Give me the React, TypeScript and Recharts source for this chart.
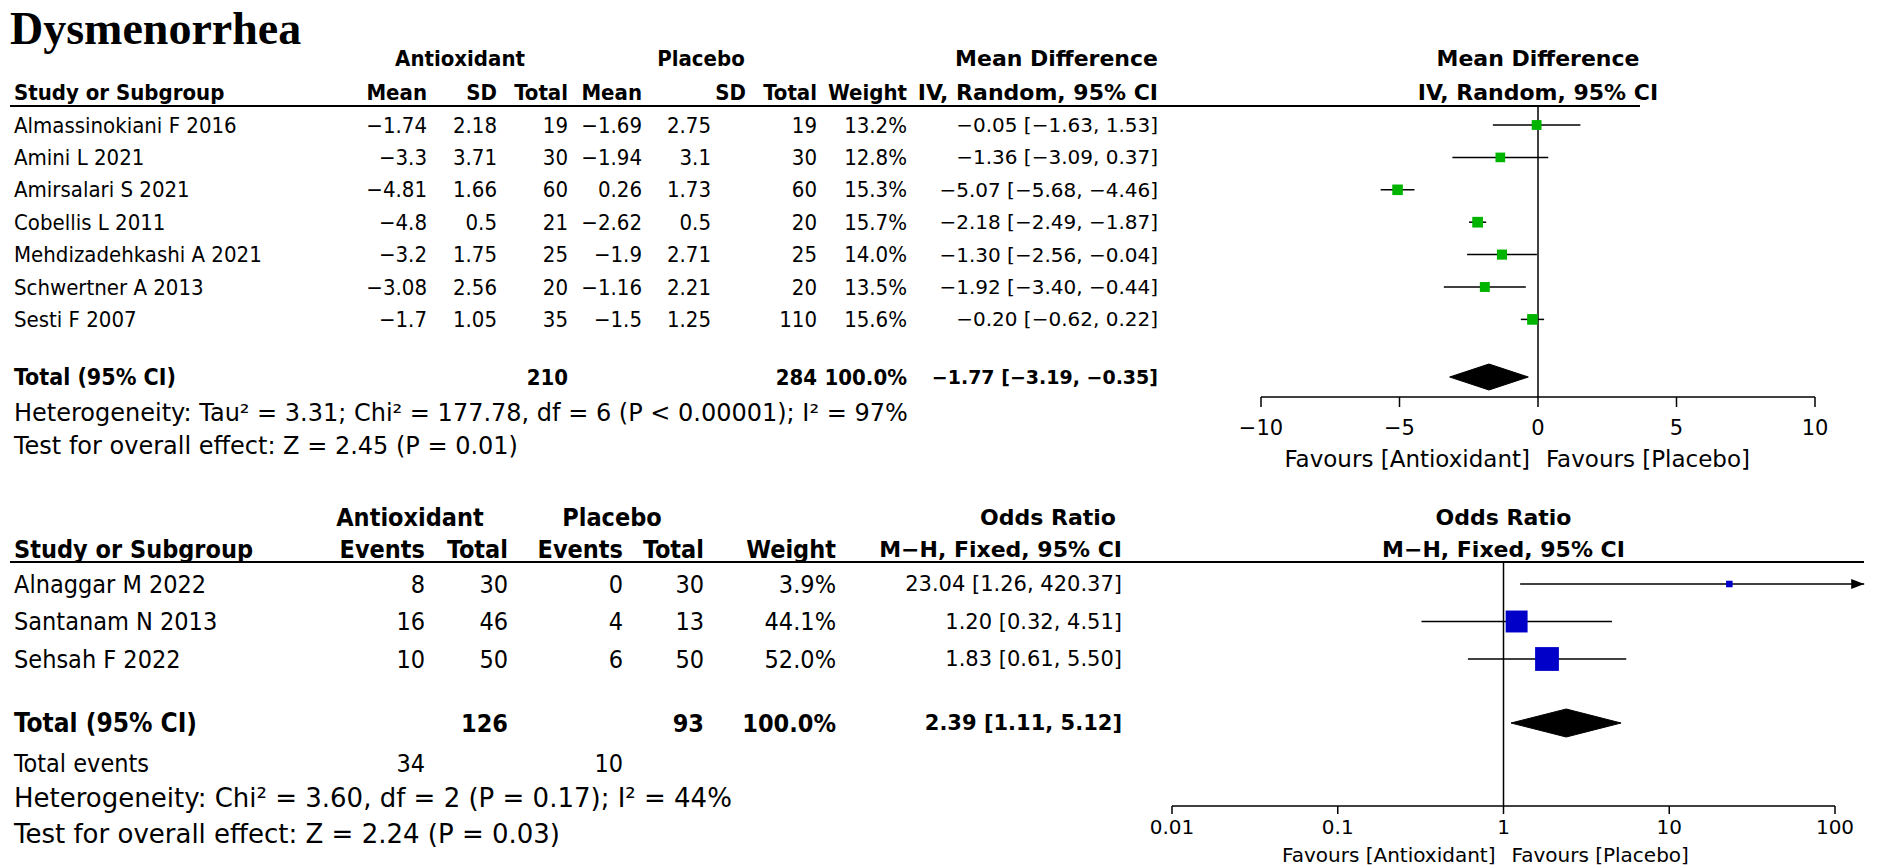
import React from "react";
import { ComposedChart, XAxis, YAxis, Scatter, Area, ReferenceLine } from "recharts";

const W = 1902;
const H = 868;

// ---- Dysmenorrhea: mean difference ----
const mdStudy = [
  "Almassinokiani F 2016",
  "Amini L 2021",
  "Amirsalari S 2021",
  "Cobellis L 2011",
  "Mehdizadehkashi A 2021",
  "Schwertner A 2013",
  "Sesti F 2007",
];
const mdAntioxMean = [-1.74, -3.3, -4.81, -4.8, -3.2, -3.08, -1.7];
const mdAntioxSD = [2.18, 3.71, 1.66, 0.5, 1.75, 2.56, 1.05];
const mdAntioxTotal = [19, 30, 60, 21, 25, 20, 35];
const mdPlaceboMean = [-1.69, -1.94, 0.26, -2.62, -1.9, -1.16, -1.5];
const mdPlaceboSD = [2.75, 3.1, 1.73, 0.5, 2.71, 2.21, 1.25];
const mdPlaceboTotal = [19, 30, 60, 20, 25, 20, 110];
const mdWeight = [13.2, 12.8, 15.3, 15.7, 14.0, 13.5, 15.6];
const mdEst = [-0.05, -1.36, -5.07, -2.18, -1.3, -1.92, -0.2];
const mdLow = [-1.63, -3.09, -5.68, -2.49, -2.56, -3.4, -0.62];
const mdHigh = [1.53, 0.37, -4.46, -1.87, -0.04, -0.44, 0.22];
const mdTotal = { antiox: 210, placebo: 284, weight: 100.0, est: -1.77, low: -3.19, high: -0.35 };
const mdTicks = [-10, -5, 0, 5, 10];

// ---- odds ratio ----
const orStudy = ["Alnaggar M 2022", "Santanam N 2013", "Sehsah F 2022"];
const orAntioxEvents = [8, 16, 10];
const orAntioxTotal = [30, 46, 50];
const orPlaceboEvents = [0, 4, 6];
const orPlaceboTotal = [30, 13, 50];
const orWeight = [3.9, 44.1, 52.0];
const orEst = [23.04, 1.2, 1.83];
const orLow = [1.26, 0.32, 0.61];
const orHigh = [420.37, 4.51, 5.5];
const orTotal = { antiox: 126, placebo: 93, weight: 100.0, est: 2.39, low: 1.11, high: 5.12, evA: 34, evP: 10 };
const orTicks = [0.01, 0.1, 1, 10, 100];
const OR_EDGE = 150; // right edge of the plot, where clipped CIs get an arrow

// ---- layout ----
const UP = {
  h1: 58, h2: 92, rule: 106, first: 125, pitch: 32.4, total: 377, het: 413, test: 446,
  axis: 397, fav: 459, left: 1261, right: 1815, ruleEnd: 1640, fs: 22, hetFs: 24,
  cols: { name: 14, aMean: 427, aSD: 497, aTot: 568, pMean: 642, pSD: 711, pSDh: 746, pTot: 817, wt: 907, ci: 1158 },
  hdA: 460, hdP: 701,
};
const LO = {
  h1: 517, h2: 549, rule: 562, first: 584, pitch: 37.5, total: 723, events: 763, het: 798, test: 834,
  axis: 806, fav: 855, left: 1172, right: 1835, ruleEnd: 1864, fs: 25, hetFs: 26,
  cols: { name: 14, aEv: 425, aTot: 508, pEv: 623, pTot: 704, wt: 836, ci: 1122 },
  hdA: 410, hdP: 612,
};

const COND = "'DejaVu Sans Condensed', 'DejaVu Sans', sans-serif";
const WIDE = "'DejaVu Sans', Verdana, sans-serif";
const CI_FS = 20;
const CI_BOLD_FS = 19;

const fmt = (v: number, d?: number) => (d === undefined ? String(v) : v.toFixed(d)).replace("-", "\u2212");
const ci = (e: number, l: number, h: number) => `${fmt(e, 2)} [${fmt(l, 2)}, ${fmt(h, 2)}]`;

type TP = { x: number; y: number; a?: "start" | "middle" | "end"; b?: boolean; s?: number; f?: string; children: React.ReactNode };
const T = ({ x, y, a = "start", b, s = 20, f = COND, children }: TP) => (
  <text x={x} y={y} textAnchor={a} dominantBaseline="central" fontFamily={f} fontSize={s}
    fontWeight={b ? "bold" : "normal"} fill="#000" style={{ fontStretch: f === COND ? "condensed" : "normal" }}>
    {children}
  </text>
);

const upRowY = (i: number) => UP.first + i * UP.pitch;
const loRowY = (i: number) => LO.first + i * LO.pitch;
const upZero = (UP.left + UP.right) / 2;
const loOne = (LO.left + LO.right) / 2;

function Overlay() {
  const u = UP.cols;
  const l = LO.cols;
  const us = UP.fs;
  const ls = LO.fs;
  return (
    <svg width={W} height={H} style={{ position: "absolute", left: 0, top: 0, pointerEvents: "none" }}>
      <text x={10} y={44} fontFamily="'Liberation Serif', 'Times New Roman', serif" fontSize={46} fontWeight="bold" fill="#000">
        Dysmenorrhea
      </text>
      {/* upper header */}
      <T x={UP.hdA} y={UP.h1} a="middle" b s={us}>Antioxidant</T>
      <T x={UP.hdP} y={UP.h1} a="middle" b s={us}>Placebo</T>
      <T x={u.ci} y={UP.h1} a="end" b s={22} f={WIDE}>Mean Difference</T>
      <T x={upZero} y={UP.h1} a="middle" b s={22} f={WIDE}>Mean Difference</T>
      <T x={u.name} y={UP.h2} b s={us}>Study or Subgroup</T>
      <T x={u.aMean} y={UP.h2} a="end" b s={us}>Mean</T>
      <T x={u.aSD} y={UP.h2} a="end" b s={us}>SD</T>
      <T x={u.aTot} y={UP.h2} a="end" b s={us}>Total</T>
      <T x={u.pMean} y={UP.h2} a="end" b s={us}>Mean</T>
      <T x={u.pSDh} y={UP.h2} a="end" b s={us}>SD</T>
      <T x={u.pTot} y={UP.h2} a="end" b s={us}>Total</T>
      <T x={u.wt} y={UP.h2} a="end" b s={us}>Weight</T>
      <T x={u.ci} y={UP.h2} a="end" b s={22} f={WIDE}>IV, Random, 95% CI</T>
      <T x={upZero} y={UP.h2} a="middle" b s={22} f={WIDE}>IV, Random, 95% CI</T>
      <line x1={10} x2={UP.ruleEnd} y1={UP.rule} y2={UP.rule} stroke="#000" strokeWidth={2} />
      {mdStudy.map((s, i) => (
        <g key={s}>
          <T x={u.name} y={upRowY(i)} s={us}>{s}</T>
          <T x={u.aMean} y={upRowY(i)} a="end" s={us}>{fmt(mdAntioxMean[i])}</T>
          <T x={u.aSD} y={upRowY(i)} a="end" s={us}>{fmt(mdAntioxSD[i])}</T>
          <T x={u.aTot} y={upRowY(i)} a="end" s={us}>{mdAntioxTotal[i]}</T>
          <T x={u.pMean} y={upRowY(i)} a="end" s={us}>{fmt(mdPlaceboMean[i])}</T>
          <T x={u.pSD} y={upRowY(i)} a="end" s={us}>{fmt(mdPlaceboSD[i])}</T>
          <T x={u.pTot} y={upRowY(i)} a="end" s={us}>{mdPlaceboTotal[i]}</T>
          <T x={u.wt} y={upRowY(i)} a="end" s={us}>{mdWeight[i].toFixed(1)}%</T>
          <T x={u.ci} y={upRowY(i)} a="end" s={CI_FS} f={WIDE}>{ci(mdEst[i], mdLow[i], mdHigh[i])}</T>
        </g>
      ))}
      <T x={u.name} y={UP.total} b s={us + 1}>Total (95% CI)</T>
      <T x={u.aTot} y={UP.total} a="end" b s={us}>{mdTotal.antiox}</T>
      <T x={u.pTot} y={UP.total} a="end" b s={us}>{mdTotal.placebo}</T>
      <T x={u.wt} y={UP.total} a="end" b s={us}>{mdTotal.weight.toFixed(1)}%</T>
      <T x={u.ci} y={UP.total} a="end" b s={CI_BOLD_FS} f={WIDE}>{ci(mdTotal.est, mdTotal.low, mdTotal.high)}</T>
      <T x={u.name} y={UP.het} s={UP.hetFs} f={WIDE}>Heterogeneity: Tau² = 3.31; Chi² = 177.78, df = 6 (P &lt; 0.00001); I² = 97%</T>
      <T x={u.name} y={UP.test} s={UP.hetFs} f={WIDE}>Test for overall effect: Z = 2.45 (P = 0.01)</T>
      <T x={upZero - 8} y={UP.fav} a="end" s={23} f={WIDE}>Favours [Antioxidant]</T>
      <T x={upZero + 8} y={UP.fav} s={23} f={WIDE}>Favours [Placebo]</T>

      {/* lower header */}
      <T x={LO.hdA} y={LO.h1} a="middle" b s={ls}>Antioxidant</T>
      <T x={LO.hdP} y={LO.h1} a="middle" b s={ls}>Placebo</T>
      <T x={l.ci - 6} y={LO.h1} a="end" b s={22} f={WIDE}>Odds Ratio</T>
      <T x={loOne} y={LO.h1} a="middle" b s={22} f={WIDE}>Odds Ratio</T>
      <T x={l.name} y={LO.h2} b s={ls}>Study or Subgroup</T>
      <T x={l.aEv} y={LO.h2} a="end" b s={ls}>Events</T>
      <T x={l.aTot} y={LO.h2} a="end" b s={ls}>Total</T>
      <T x={l.pEv} y={LO.h2} a="end" b s={ls}>Events</T>
      <T x={l.pTot} y={LO.h2} a="end" b s={ls}>Total</T>
      <T x={l.wt} y={LO.h2} a="end" b s={ls}>Weight</T>
      <T x={l.ci} y={LO.h2} a="end" b s={22} f={WIDE}>M−H, Fixed, 95% CI</T>
      <T x={loOne} y={LO.h2} a="middle" b s={22} f={WIDE}>M−H, Fixed, 95% CI</T>
      <line x1={10} x2={LO.ruleEnd} y1={LO.rule} y2={LO.rule} stroke="#000" strokeWidth={2} />
      {orStudy.map((s, i) => (
        <g key={s}>
          <T x={l.name} y={loRowY(i)} s={ls}>{s}</T>
          <T x={l.aEv} y={loRowY(i)} a="end" s={ls}>{orAntioxEvents[i]}</T>
          <T x={l.aTot} y={loRowY(i)} a="end" s={ls}>{orAntioxTotal[i]}</T>
          <T x={l.pEv} y={loRowY(i)} a="end" s={ls}>{orPlaceboEvents[i]}</T>
          <T x={l.pTot} y={loRowY(i)} a="end" s={ls}>{orPlaceboTotal[i]}</T>
          <T x={l.wt} y={loRowY(i)} a="end" s={ls}>{orWeight[i].toFixed(1)}%</T>
          <T x={l.ci} y={loRowY(i)} a="end" s={21} f={WIDE}>{ci(orEst[i], orLow[i], orHigh[i])}</T>
        </g>
      ))}
      <T x={l.name} y={LO.total} b s={ls + 1}>Total (95% CI)</T>
      <T x={l.aTot} y={LO.total} a="end" b s={ls}>{orTotal.antiox}</T>
      <T x={l.pTot} y={LO.total} a="end" b s={ls}>{orTotal.placebo}</T>
      <T x={l.wt} y={LO.total} a="end" b s={ls}>{orTotal.weight.toFixed(1)}%</T>
      <T x={l.ci} y={LO.total} a="end" b s={21} f={WIDE}>{ci(orTotal.est, orTotal.low, orTotal.high)}</T>
      <T x={l.name} y={LO.events} s={ls}>Total events</T>
      <T x={l.aEv} y={LO.events} a="end" s={ls}>{orTotal.evA}</T>
      <T x={l.pEv} y={LO.events} a="end" s={ls}>{orTotal.evP}</T>
      <T x={l.name} y={LO.het} s={LO.hetFs} f={WIDE}>Heterogeneity: Chi² = 3.60, df = 2 (P = 0.17); I² = 44%</T>
      <T x={l.name} y={LO.test} s={LO.hetFs} f={WIDE}>Test for overall effect: Z = 2.24 (P = 0.03)</T>
      <T x={loOne - 8} y={LO.fav} a="end" s={20} f={WIDE}>Favours [Antioxidant]</T>
      <T x={loOne + 8} y={LO.fav} s={20} f={WIDE}>Favours [Placebo]</T>
    </svg>
  );
}

const tickStyle = { fill: "#000", fontSize: 21, fontFamily: WIDE };

function MeanDiffPlot() {
  const chartH = 480;
  const d0 = (UP.rule - UP.first) / UP.pitch;
  const d1 = (UP.axis - UP.first) / UP.pitch;
  const totalRow = (UP.total - UP.first) / UP.pitch;
  const pts = mdEst.map((e, i) => ({ x: e, y: i, w: mdWeight[i] }));
  const dh = 13 / UP.pitch;
  const diamond = [
    { x: mdTotal.low, band: [totalRow, totalRow] },
    { x: mdTotal.est, band: [totalRow - dh, totalRow + dh] },
    { x: mdTotal.high, band: [totalRow, totalRow] },
  ];
  return (
    <ComposedChart width={W} height={chartH} style={{ position: "absolute", left: 0, top: 0 }}
      margin={{ top: UP.rule, left: UP.left, right: W - UP.right, bottom: 0 }}>
      <XAxis dataKey="x" type="number" domain={[-10, 10]} ticks={mdTicks} allowDataOverflow
        height={chartH - UP.axis} stroke="#000" tickSize={10} tickMargin={13}
        axisLine={{ stroke: "#000", strokeWidth: 1.5 }} tickLine={{ stroke: "#000", strokeWidth: 1.5 }}
        tick={tickStyle} tickFormatter={(v) => fmt(v)} interval={0} />
      <YAxis dataKey="y" type="number" domain={[d0, d1]} reversed hide allowDataOverflow />
      <ReferenceLine x={0} stroke="#000" strokeWidth={1.5} />
      {mdEst.map((_, i) => (
        <ReferenceLine key={i} segment={[{ x: mdLow[i], y: i }, { x: mdHigh[i], y: i }]} stroke="#000" strokeWidth={1.5} />
      ))}
      <Scatter data={pts} isAnimationActive={false}
        shape={(p: any) => {
          const s = 2.7 * Math.sqrt(p.payload.w);
          return <rect x={p.cx - s / 2} y={p.cy - s / 2} width={s} height={s} fill="#00b400" />;
        }} />
      <Area data={diamond} dataKey="band" type="linear" stroke="#000" fill="#000" fillOpacity={1}
        isAnimationActive={false} dot={false} activeDot={false} />
    </ComposedChart>
  );
}

function OddsRatioPlot() {
  const top = 480;
  const chartH = H - top;
  const d0 = (LO.rule - LO.first) / LO.pitch;
  const d1 = (LO.axis - LO.first) / LO.pitch;
  const totalRow = (LO.total - LO.first) / LO.pitch;
  const pts = orEst.map((e, i) => ({ x: e, y: i, w: orWeight[i] }));
  const dh = 14 / LO.pitch;
  const diamond = [
    { x: orTotal.low, band: [totalRow, totalRow] },
    { x: orTotal.est, band: [totalRow - dh, totalRow + dh] },
    { x: orTotal.high, band: [totalRow, totalRow] },
  ];
  return (
    <ComposedChart width={W} height={chartH} style={{ position: "absolute", left: 0, top }}
      margin={{ top: LO.rule - top, left: LO.left, right: W - LO.right, bottom: 0 }}>
      <XAxis dataKey="x" type="number" scale="log" domain={[0.01, 100]} ticks={orTicks} allowDataOverflow
        height={H - LO.axis} stroke="#000" tickSize={8} tickMargin={6}
        axisLine={{ stroke: "#000", strokeWidth: 1.5 }} tickLine={{ stroke: "#000", strokeWidth: 1.5 }}
        tick={{ ...tickStyle, fontSize: 20 }} tickFormatter={(v) => String(v)} interval={0} />
      <YAxis dataKey="y" type="number" domain={[d0, d1]} reversed hide allowDataOverflow />
      <ReferenceLine x={1} stroke="#000" strokeWidth={1.5} />
      {orEst.map((_, i) => {
        const clipped = orHigh[i] > OR_EDGE;
        return (
          <ReferenceLine key={i} ifOverflow="visible"
            segment={[{ x: orLow[i], y: i }, { x: Math.min(orHigh[i], OR_EDGE), y: i }]}
            stroke="#000" strokeWidth={1.5}
            shape={(p: any) => (
              <g>
                <line x1={p.x1} y1={p.y1} x2={p.x2} y2={p.y2} stroke="#000" strokeWidth={1.5} />
                {clipped && (
                  <polygon points={`${p.x2},${p.y2} ${p.x2 - 13},${p.y2 - 5} ${p.x2 - 13},${p.y2 + 5}`} fill="#000" />
                )}
              </g>
            )} />
        );
      })}
      <Scatter data={pts} isAnimationActive={false}
        shape={(p: any) => {
          const s = 3.3 * Math.sqrt(p.payload.w);
          return <rect x={p.cx - s / 2} y={p.cy - s / 2} width={s} height={s} fill="#0000c8" />;
        }} />
      <Area data={diamond} dataKey="band" type="linear" stroke="#000" fill="#000" fillOpacity={1}
        isAnimationActive={false} dot={false} activeDot={false} />
    </ComposedChart>
  );
}

export default function App() {
  return (
    <div style={{ position: "absolute", left: 0, top: 0, width: W, height: H, background: "#fff", overflow: "hidden" }}>
      <MeanDiffPlot />
      <OddsRatioPlot />
      <Overlay />
    </div>
  );
}
